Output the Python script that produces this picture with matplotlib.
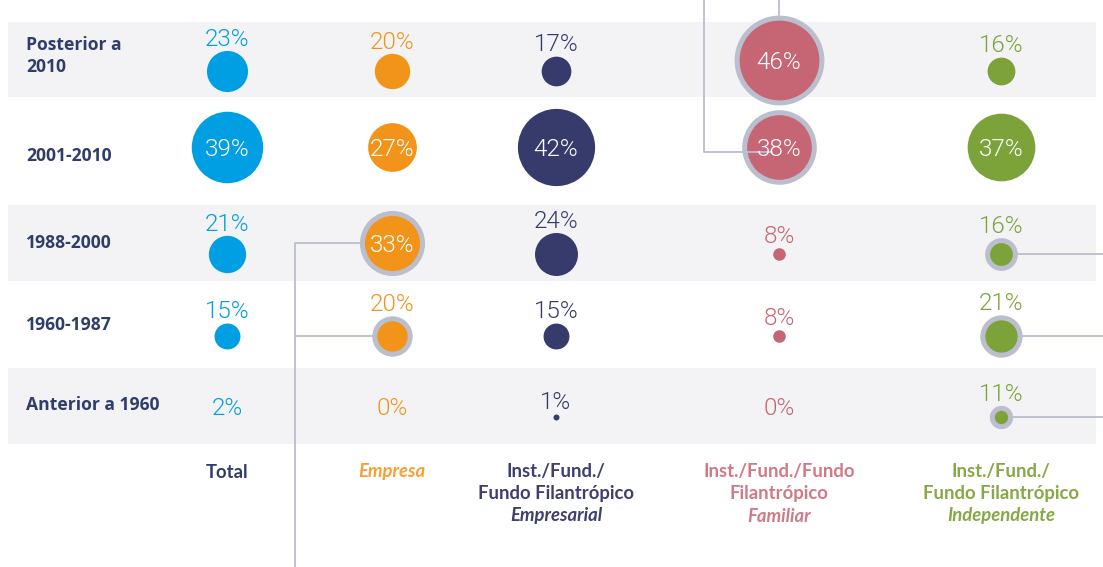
import matplotlib.pyplot as plt
from matplotlib.patches import Rectangle

# dados (% por período de criação)
periodos = ['Posterior a\n2010', '2001-2010', '1988-2000', '1960-1987', 'Anterior a 1960']
total = [23, 39, 21, 15, 2]
empresa = [20, 27, 33, 20, 0]
empresarial = [17, 42, 24, 15, 1]
familiar = [46, 38, 8, 8, 0]
independente = [16, 37, 16, 21, 11]
series = [total, empresa, empresarial, familiar, independente]

cabecalhos = [['Total'], ['Empresa'],
              ['Inst./Fund./', 'Fundo Filantrópico', 'Empresarial'],
              ['Inst./Fund./Fundo', 'Filantrópico', 'Familiar'],
              ['Inst./Fund./', 'Fundo Filantrópico', 'Independente']]

# células com destaque (anel cinza)
destaques = [(0, 3), (1, 3), (2, 1), (3, 1), (2, 4), (3, 4), (4, 4)]
sem_bolha = [(4, 0)]

# layout (em pixels)
cores = ['#009fe3', '#f29419', '#363b6b', '#c66674', '#7ca23a']
cor_txt_cab = ['#2f3d6b', '#f7a035', '#3d3f6f', '#d07a85', '#86a845']
cor_anel = '#babecd'
cor_faixa = '#f3f3f6'
col_x = [227, 392, 556, 779, 1001]
lin_y = [60, 147, 243, 325, 406]
rot_y = [56, 156, 243, 325, 405]
faixas = [(22, 97), (205, 281), (368, 444)]

W, H = 1103, 567
fig = plt.figure(figsize=(W / 100, H / 100), dpi=100)
ax = fig.add_axes([0, 0, 1, 1])
ax.set_xlim(0, W)
ax.set_ylim(H, 0)
ax.axis('off')

for y0, y1 in faixas:
    ax.add_patch(Rectangle((8, y0), 1096 - 8, y1 - y0, color=cor_faixa, lw=0, zorder=0))

fonte_num = 'Roboto'
peso_num = 300
tam_num = 17.5
fonte_rot = 'Open Sans'
fonte_cab = 'Lato'


def raio(v):
    return max(3, 0.95 * v - 1.3)


def px2s(r):
    return (2 * r * 0.72) ** 2


ALT_NUM = 17.5
GAP = 5
centros = {}

for j, vals in enumerate(series):
    for i, v in enumerate(vals):
        x = col_x[j]
        rc = lin_y[i]
        destaque = (i, j) in destaques
        r = raio(v)
        r_ext = r + 2.5 if destaque else r
        if v == 0 or (i, j) in sem_bolha:
            ax.text(x, rc + ALT_NUM / 2, f'{v}%', ha='center', va='baseline',
                    fontsize=tam_num, color=cores[j], family=fonte_num, fontweight=peso_num, zorder=5)
            continue
        if v >= 27:
            yc = rc
            ax.text(x, rc + ALT_NUM / 2, f'{v}%', ha='center', va='baseline',
                    fontsize=tam_num, color='white', family=fonte_num, fontweight=peso_num, zorder=5)
        else:
            topo = rc - (ALT_NUM + GAP + 2 * r_ext) / 2
            base = topo + ALT_NUM
            yc = base + GAP + r_ext
            ax.text(x, base, f'{v}%', ha='center', va='baseline',
                    fontsize=tam_num, color=cores[j], family=fonte_num, fontweight=peso_num, zorder=5)
        centros[(i, j)] = (x, yc, r_ext)
        if destaque:
            ax.scatter([x], [yc], s=px2s(r + 2.5), color=cor_anel, lw=0, zorder=3)
            ax.scatter([x], [yc], s=px2s(r - 2.5), color=cores[j], lw=0, zorder=3)
        else:
            ax.scatter([x], [yc], s=px2s(r), color=cores[j], lw=0, zorder=3)

# linhas de ligação
lw = 1.3
# familiar
x, yc, re = centros[(1, 3)]
ax.plot([704, 704, x - 7], [0, yc + 5, yc + 5], color=cor_anel, lw=lw, zorder=4)
x, yc, re = centros[(0, 3)]
ax.plot([x, x], [0, yc - re], color=cor_anel, lw=lw, zorder=2)
# empresa
x1, y1, r1 = centros[(2, 1)]
x2, y2, r2 = centros[(3, 1)]
ax.plot([x1 - r1, 295, 295], [y1, y1, H], color=cor_anel, lw=lw, zorder=2)
ax.plot([x2 - r2, 295], [y2, y2], color=cor_anel, lw=lw, zorder=2)
# independente
for i in (2, 3, 4):
    x, yc, re = centros[(i, 4)]
    ax.plot([x + re, W], [yc, yc], color=cor_anel, lw=lw, zorder=2)

# rótulos das linhas
for i, p in enumerate(periodos):
    ax.text(26, rot_y[i], p, ha='left', va='center', fontsize=12.6, fontweight='bold',
            color='#2f3d6b', family=fonte_rot, linespacing=1.25)

# cabeçalhos das colunas
for j, linhas in enumerate(cabecalhos):
    for k, t in enumerate(linhas):
        italico = (j == 1) or (k == 2)
        ax.text(col_x[j], 472 + 22 * k, t, ha='center', va='center', fontsize=13.3,
                fontweight='bold', style='italic' if italico else 'normal',
                color=cor_txt_cab[j], family=fonte_cab)

plt.savefig('out.png', dpi=100)
